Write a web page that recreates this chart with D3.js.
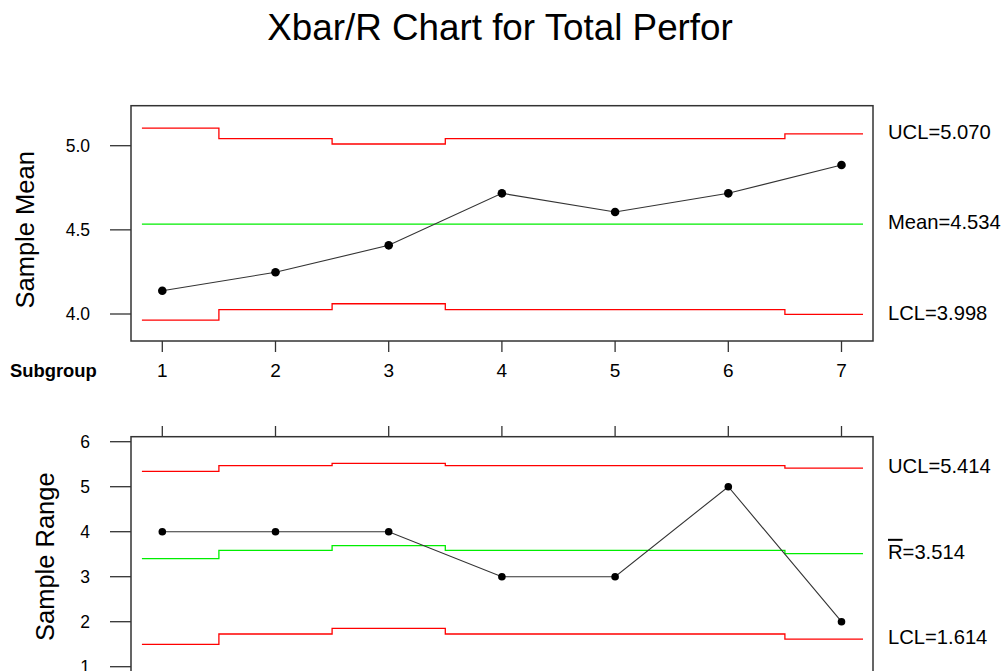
<!DOCTYPE html>
<html>
<head>
<meta charset="utf-8">
<script src="https://cdn.jsdelivr.net/npm/d3@7"></script>
<style>
  html, body { margin: 0; padding: 0; background: #fff; }
  text { font-family: "Liberation Sans", Arial, sans-serif; fill: #000; }
</style>
</head>
<body>
<svg id="chart" width="1004" height="671"></svg>
<script>
// ---- data ----
const subgroups = [1, 2, 3, 4, 5, 6, 7];
const sampleMeans = [4.138, 4.248, 4.408, 4.717, 4.606, 4.717, 4.885];
const meanUCL = [5.105, 5.042, 5.010, 5.042, 5.042, 5.042, 5.070];
const meanCenter = [4.534, 4.534, 4.534, 4.534, 4.534, 4.534, 4.534];
const meanLCL = [3.964, 4.026, 4.061, 4.026, 4.026, 4.026, 3.998];

const sampleRanges = [4, 4, 4, 3, 3, 5, 2];
const rangeUCL = [5.342, 5.467, 5.520, 5.467, 5.467, 5.467, 5.414];
const rangeCenter = [3.400, 3.587, 3.690, 3.587, 3.587, 3.587, 3.514];
const rangeLCL = [1.498, 1.727, 1.853, 1.727, 1.727, 1.727, 1.614];

const meanTicks = [4.0, 4.5, 5.0];
const rangeTicks = [1, 2, 3, 4, 5, 6];
const meanLabels = ["UCL=5.070", "Mean=4.534", "LCL=3.998"];
const rangeLabels = ["UCL=5.414", "=3.514", "LCL=1.614"];
const title = "Xbar/R Chart for Total Perfor";

// ---- layout ----
const svg = d3.select("#chart");
const boxL = 131, boxR = 873;
const x = d3.scaleLinear().domain([1, 7]).range([162.3, 841.5]);
const stepStart = 0.82, stepEnd = 7.19;

svg.append("text").attr("x", 500).attr("y", 40).attr("text-anchor", "middle")
  .style("font-size", "36.8px").text(title);

function stepPoints(vals) {
  const pts = [];
  vals.forEach((v, i) => {
    const s = subgroups[i];
    const lo = i === 0 ? stepStart : s - 0.5;
    const hi = i === vals.length - 1 ? stepEnd : s + 0.5;
    pts.push([lo, v], [hi, v]);
  });
  return pts;
}

function panel(opts) {
  const { y, top, bottom, ticks, fmt, values, ucl, cl, lcl, labels, ylab, ylabX, tickSide } = opts;
  const g = svg.append("g");
  const line = d3.line().x(d => x(d[0])).y(d => y(d[1]));

  // control limits
  [[ucl, "#ff0000"], [cl, "#00ee00"], [lcl, "#ff0000"]].forEach(([vals, col]) => {
    g.append("path").attr("d", line(stepPoints(vals)))
      .attr("fill", "none").attr("stroke", col).attr("stroke-width", 1.3);
  });

  // data line
  const pts = values.map((v, i) => [subgroups[i], v]);
  g.append("path").attr("d", line(pts)).attr("fill", "none")
    .attr("stroke", "#333").attr("stroke-width", 1.1);
  g.selectAll("circle.pt").data(pts).enter().append("circle")
    .attr("cx", d => x(d[0])).attr("cy", d => y(d[1])).attr("r", opts.r)
    .attr("fill", "#000");

  // box
  g.append("rect").attr("x", boxL).attr("y", top).attr("width", boxR - boxL)
    .attr("height", bottom - top).attr("fill", "none")
    .attr("stroke", "#333").attr("stroke-width", 1.5);

  // y ticks
  ticks.forEach(t => {
    g.append("line").attr("x1", 110).attr("x2", boxL).attr("y1", y(t)).attr("y2", y(t))
      .attr("stroke", "#333").attr("stroke-width", 1.3);
    g.append("text").attr("x", 90).attr("y", y(t)).attr("dy", "0.36em")
      .attr("text-anchor", "end").style("font-size", "17.5px").text(fmt(t));
  });

  // x ticks
  subgroups.forEach(s => {
    const y1 = tickSide === "below" ? bottom : top - 10.7;
    const y2 = tickSide === "below" ? bottom + 11 : top;
    g.append("line").attr("x1", x(s)).attr("x2", x(s)).attr("y1", y1).attr("y2", y2)
      .attr("stroke", "#333").attr("stroke-width", 1.3);
  });

  // y label
  g.append("text").attr("transform", `translate(${ylabX},${(y.range()[0] + y.range()[1]) / 2 + opts.ylabShift}) rotate(-90)`)
    .attr("text-anchor", "middle").style("font-size", "25.5px").text(ylab);

  // right labels
  const last = values.length - 1;
  [ucl[last], cl[last], lcl[last]].forEach((v, i) => {
    const t = g.append("text").attr("x", 888).attr("y", y(v) - 2).attr("dy", "0.36em")
      .style("font-size", "20.2px");
    if (opts.rbar && i === 1) {
      t.append("tspan").style("text-decoration", "overline").text("R");
      t.append("tspan").text(labels[i]);
    } else {
      t.text(labels[i]);
    }
  });
  return g;
}

// top panel: sample mean
const yMean = d3.scaleLinear().domain([4, 5]).range([314, 145.7]);
panel({
  y: yMean, top: 105.7, bottom: 341, ticks: meanTicks, fmt: d3.format(".1f"),
  values: sampleMeans, ucl: meanUCL, cl: meanCenter, lcl: meanLCL,
  labels: meanLabels, ylab: "Sample Mean", ylabX: 34, ylabShift: 0, tickSide: "below", r: 4.3
});

// x tick labels and Subgroup label
subgroups.forEach(s => {
  svg.append("text").attr("x", x(s)).attr("y", 377).attr("text-anchor", "middle")
    .style("font-size", "19px").text(s);
});
svg.append("text").attr("x", 10).attr("y", 377).style("font-size", "18.4px")
  .style("font-weight", "bold").text("Subgroup");

// bottom panel: sample range
const yRange = d3.scaleLinear().domain([1, 6]).range([666.7, 441.7]);
panel({
  y: yRange, top: 436.7, bottom: 720, ticks: rangeTicks, fmt: d3.format("d"),
  values: sampleRanges, ucl: rangeUCL, cl: rangeCenter, lcl: rangeLCL,
  labels: rangeLabels, ylab: "Sample Range", ylabX: 54, ylabShift: 2.5, tickSide: "above", r: 3.8, rbar: true
});
</script>
</body>
</html>
